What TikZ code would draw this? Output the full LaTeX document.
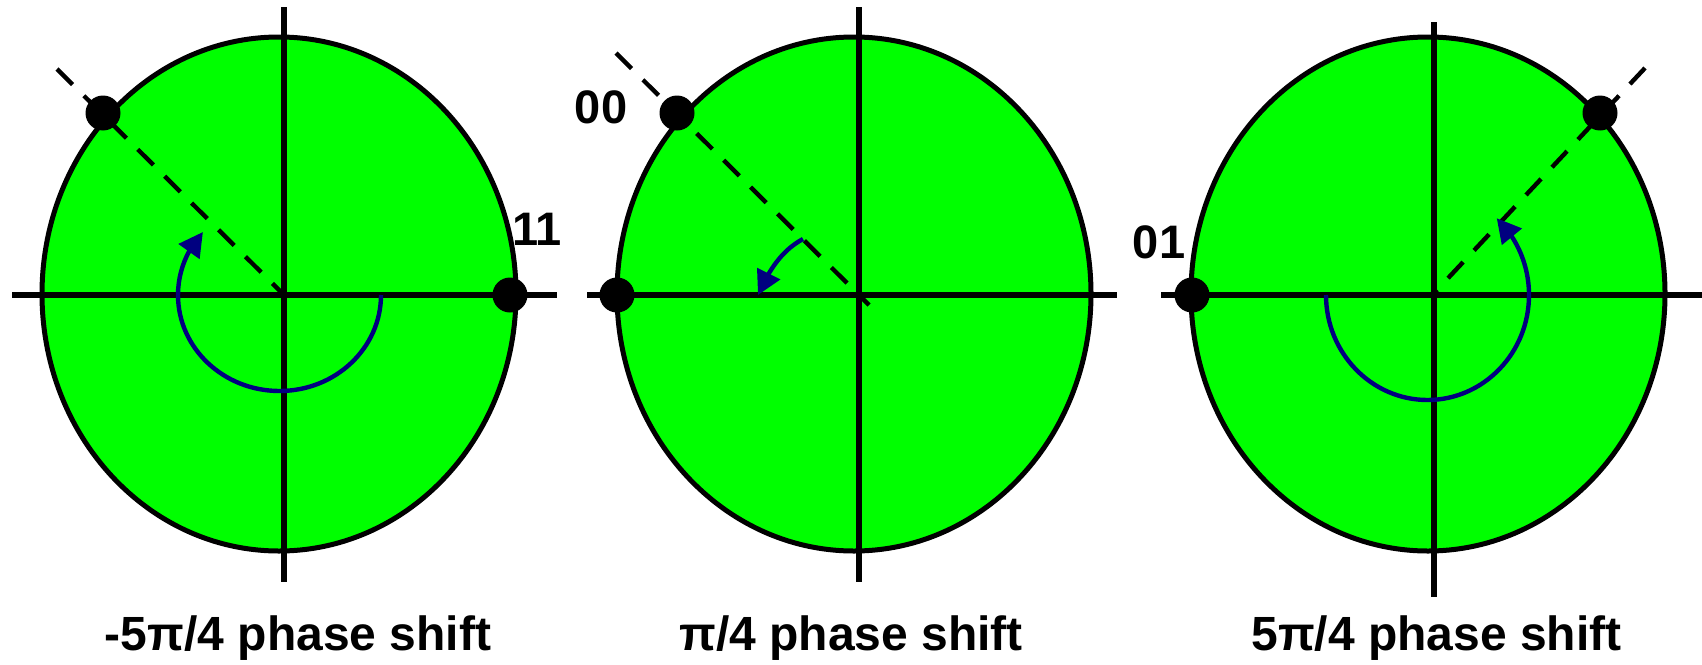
\documentclass[tikz,border=0pt]{standalone}
\usepackage{fontspec}
\setmainfont{Liberation Sans}
\usetikzlibrary{arrows.meta,bending}
\definecolor{disc}{RGB}{0,255,0}
\definecolor{navyarc}{RGB}{0,0,128}
\begin{document}
\begin{tikzpicture}[x=0.5pt,y=-0.5pt,
  disk/.style={fill=disc,draw=black,line width=2.5pt},
  axis/.style={draw=black,line width=2.6pt},
  radial/.style={draw=black,line width=2.2pt,dash pattern=on 11pt off 8pt},
  phasearc/.style={draw=navyarc,line width=2.2pt,-{Triangle[length=12pt,width=12.5pt]}},
  dot/.style={circle,fill=black,inner sep=0pt,minimum size=17.5pt},
  lbl/.style={font=\fontsize{23.5}{28}\selectfont\bfseries,inner sep=0pt},
  captext/.style={font=\fontsize{24}{28}\selectfont\bfseries,inner sep=0pt,anchor=base}]
\useasboundingbox (0,0) rectangle (1702,664);

% ---------- circle 1 ----------
\coordinate (o1) at (284,295);
\path[disk] (279,294) ellipse [x radius=237, y radius=257];
\draw[axis] (284,7) -- (284,582);
\draw[axis] (12,295) -- (557,295);
\draw[radial] (57,69) -- (281,292);
\draw[phasearc] (381,295) arc[start angle=0,end angle=221,x radius=101.5,y radius=96];
\node[dot] (p1a) at (103,113) {};
\node[dot] (p1b) at (510,295) {};
\node[lbl] (l11) at (537,229) {11};
\node[captext] (c1) at (298,650) {-5π/4 phase shift};

% ---------- circle 2 ----------
\coordinate (o2) at (859,295);
\path[disk] (854,294) ellipse [x radius=237, y radius=257];
\draw[axis] (859,7) -- (859,582);
\draw[axis] (587,295) -- (1117,295);
\draw[radial] (616,53) -- (869,305);
\draw[phasearc] (803,239) .. controls (788,247) and (772,262) .. (758,295);
\node[dot] (p2a) at (677,113) {};
\node[dot] (p2b) at (617,295) {};
\node[lbl] (l00) at (601,107.5) {00};
\node[captext] (c2) at (851,650) {π/4 phase shift};

% ---------- circle 3 ----------
\coordinate (o3) at (1434,295);
\path[disk] (1428,294) ellipse [x radius=237, y radius=257];
\draw[axis] (1434,22) -- (1434,597);
\draw[axis] (1161,295) -- (1702,295);
\draw[radial] (1645,68) -- (1436,291);
\draw[phasearc] (1326,295) arc[start angle=180,end angle=-47,x radius=101.5,y radius=105];
\node[dot] (p3a) at (1600,113) {};
\node[dot] (p3b) at (1192,295) {};
\node[lbl] (l01) at (1159,242) {01};
\node[captext] (c3) at (1436.5,650) {5π/4 phase shift};
\end{tikzpicture}
\end{document}
